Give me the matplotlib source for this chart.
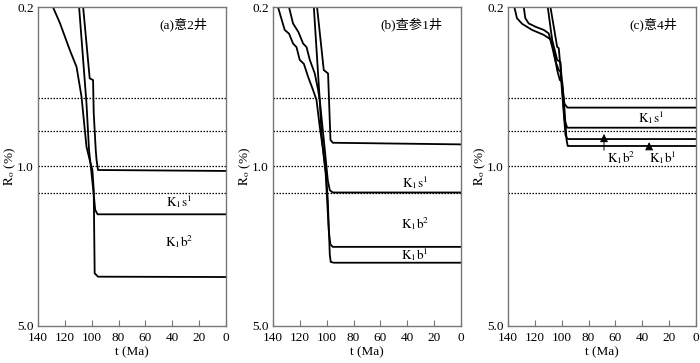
import matplotlib
matplotlib.use("Agg")
from matplotlib import pyplot as plt

plt.rcParams['font.family'] = ['Liberation Serif', 'Noto Sans CJK SC']
plt.rcParams['mathtext.fontset'] = 'stix'

# Ro (%) evolution curves, (t in Ma, Ro in %)
# (a) well Yi-2
a1_t = [128.9, 123.7, 116.3, 111.3, 107.6, 103.9, 101.5, 99.5, 98.5, 97.8, 95.3, 0]
a1_ro = [0.2, 0.235, 0.309, 0.366, 0.494, 0.819, 0.936, 1.036, 1.267, 2.94, 3.04, 3.05]
a2_t = [109.4, 103.9, 102.0, 100.0, 98.1, 97.4, 95.6, 0]
a2_ro = [0.2, 0.529, 0.847, 1.09, 1.40, 1.55, 1.62, 1.62]
a3_t = [106.4, 101.5, 99.0, 98.5, 97.0, 96.4, 95.3, 0]
a3_ro = [0.2, 0.411, 0.418, 0.583, 0.847, 0.936, 1.036, 1.046]

# (b) well Chacan-1
b1_t = [136.3, 131.3, 128.0, 125.1, 122.5, 120.1, 117.0, 113.9, 110.2, 107.6, 105.2, 102.7, 100.7, 99.2, 97.7, 97.0, 94.7, 0]
b1_ro = [0.2, 0.252, 0.262, 0.289, 0.300, 0.341, 0.355, 0.404, 0.462, 0.511, 0.669, 0.847, 1.04, 1.40, 2.44, 2.62, 2.64, 2.64]
b2_t = [128.1, 125.1, 121.0, 117.6, 115.0, 112.6, 108.9, 106.4, 105.2, 103.9, 102.7, 100.7, 98.5, 97.3, 95.5, 0]
b2_ro = [0.2, 0.236, 0.258, 0.289, 0.300, 0.341, 0.391, 0.462, 0.511, 0.713, 0.847, 1.09, 1.90, 2.19, 2.25, 2.25]
b3_t = [109.6, 105.2, 101.4, 99.2, 97.7, 95.5, 0]
b3_ro = [0.2, 0.511, 0.847, 1.15, 1.27, 1.30, 1.30]
b4_t = [107.2, 102.2, 99.0, 97.2, 95.5, 0]
b4_ro = [0.2, 0.378, 0.391, 0.765, 0.787, 0.80]

# (c) well Yi-4
c1_t = [135.3, 133.3, 129.5, 122.1, 113.4, 108.4, 105.9, 103.4, 101.4, 99.6, 98.4, 96.4, 95.5, 0]
c1_ro = [0.2, 0.224, 0.237, 0.252, 0.265, 0.277, 0.309, 0.378, 0.418, 0.425, 0.511, 0.765, 0.813, 0.813]
c2_t = [128.3, 127.1, 124.6, 119.6, 113.4, 109.7, 107.1, 104.6, 102.2, 100.9, 97.2, 95.7, 0]
c2_ro = [0.2, 0.224, 0.236, 0.244, 0.252, 0.261, 0.299, 0.347, 0.378, 0.384, 0.728, 0.758, 0.758]
c3_t = [110.4, 107.1, 103.4, 100.9, 97.9, 95.9, 0]
c3_ro = [0.2, 0.279, 0.341, 0.349, 0.626, 0.676, 0.676]
c4_t = [108.4, 103.4, 102.2, 99.4, 97.9, 95.7, 0]
c4_ro = [0.2, 0.299, 0.303, 0.462, 0.532, 0.552, 0.552]

ref_lines = [0.5, 0.7, 1.0, 1.3]
x_ticks = [140, 120, 100, 80, 60, 40, 20, 0]
y_ticks = [0.2, 1.0, 5.0]
y_ticklabels = ['0.2', '1.0', '5.0']

panels = [
    ('(a)意2井', [(a1_t, a1_ro), (a2_t, a2_ro), (a3_t, a3_ro)],
     [(34.8, 1.43, r'$\mathrm{K_1s^1}$'), (34.8, 2.14, r'$\mathrm{K_1b^2}$')]),
    ('(b)查参1井', [(b1_t, b1_ro), (b2_t, b2_ro), (b3_t, b3_ro), (b4_t, b4_ro)],
     [(34.3, 1.18, r'$\mathrm{K_1s^1}$'), (34.3, 1.77, r'$\mathrm{K_1b^2}$'),
      (34.3, 2.44, r'$\mathrm{K_1b^1}$')]),
    ('(c)意4井', [(c1_t, c1_ro), (c2_t, c2_ro), (c3_t, c3_ro), (c4_t, c4_ro)],
     [(33.6, 0.613, r'$\mathrm{K_1s^1}$'), (56.0, 0.918, r'$\mathrm{K_1b^2}$'),
      (24.9, 0.918, r'$\mathrm{K_1b^1}$')]),
]

fig = plt.figure(figsize=(7.0, 3.63), dpi=100)
lefts = [38 / 700, 273 / 700, 508 / 700]

for idx, (title, curves, labels) in enumerate(panels):
    ax = fig.add_axes([lefts[idx], 37 / 363, 188 / 700, 319 / 363])
    for t, ro in curves:
        ax.plot(t, ro, color='black', lw=1.3, solid_joinstyle='round')
    for r in ref_lines:
        ax.axhline(r, color='black', lw=0.9, ls=(0, (1.2, 1.2)))
    ax.set_yscale('log')
    ax.set_xlim(140, 0)
    ax.set_ylim(5.0, 0.2)
    ax.set_yticks(y_ticks)
    ax.set_yticklabels(y_ticklabels)
    ax.minorticks_off()
    ax.set_xticks(x_ticks)
    ax.tick_params(axis='x', direction='in', length=4, width=0.8, color='#777777',
                   labelsize=9.5, pad=4)
    ax.tick_params(axis='y', length=0, labelsize=9.5, pad=3)
    for s in ax.spines.values():
        s.set_color('#777777')
        s.set_linewidth(1.0)
    ax.set_xlabel('t (Ma)', fontsize=9.5, labelpad=2)
    ax.set_ylabel(r'$\mathrm{R_o}$ (%)', fontsize=9.5, labelpad=-1)
    ax.text(0.9, 0.945, title, transform=ax.transAxes, ha='right', va='center', fontsize=9.5)
    for tx, ty, s in labels:
        ax.text(tx, ty, s, ha='center', va='center', fontsize=9.5)
    if idx == 2:
        ax.annotate('', xy=(68.5, 0.70), xytext=(68.5, 0.873),
                    arrowprops=dict(arrowstyle='-|>', color='black', lw=0.7,
                                    mutation_scale=12))
        ax.annotate('', xy=(34.9, 0.76), xytext=(34.9, 0.847),
                    arrowprops=dict(arrowstyle='-|>', color='black', lw=0.7,
                                    mutation_scale=12))

fig.savefig('out.png', dpi=100)
